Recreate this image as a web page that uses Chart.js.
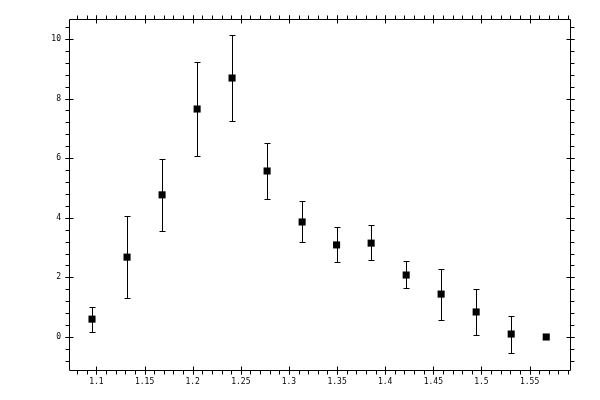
<!DOCTYPE html>
<html>
<head>
<meta charset="utf-8">
<script src="https://cdn.jsdelivr.net/npm/chart.js@4.4.1/dist/chart.umd.min.js"></script>
<style>
  html, body { margin: 0; padding: 0; background: #fff; }
  #wrap { width: 600px; height: 400px; }
</style>
</head>
<body>
<div id="wrap"><canvas id="canvas"></canvas></div>
<script>
// values
const xValues = [1.0954, 1.1318, 1.1682, 1.2046, 1.2409, 1.2773, 1.3137, 1.3495, 1.3854, 1.4218, 1.4581, 1.4945, 1.5309, 1.5673];
const yValues = [0.60, 2.68, 4.77, 7.65, 8.69, 5.57, 3.86, 3.09, 3.15, 2.08, 1.44, 0.84, 0.10, 0.00];
const yHigh   = [1.02, 4.06, 5.97, 9.24, 10.14, 6.51, 4.56, 3.69, 3.76, 2.55, 2.28, 1.61, 0.71, 0.00];
const yLow    = [0.17, 1.32, 3.56, 6.08, 7.25, 4.63, 3.19, 2.52, 2.58, 1.64, 0.57, 0.07, -0.54, 0.00];

const xTicks = [1.1, 1.15, 1.2, 1.25, 1.3, 1.35, 1.4, 1.45, 1.5, 1.55];
const xTickLabels = ['1.1', '1.15', '1.2', '1.25', '1.3', '1.35', '1.4', '1.45', '1.5', '1.55'];
const yTicks = [0, 2, 4, 6, 8, 10];
const yTickLabels = ['0', '2', '4', '6', '8', '10'];

const xRange = [1.0715, 1.592];
const yRange = [-1.107, 10.67];
const xMinorStep = 0.01;
const yMinorStep = 0.4;

let ctx = document.getElementById('canvas').getContext('2d');

const points = xValues.map((x, i) => ({ x: x, y: yValues[i] }));

// error bars go under the squares
const errorBars = {
  id: 'errorBars',
  beforeDatasetsDraw(chart) {
    const c = chart.ctx;
    const xs = chart.scales.x, ys = chart.scales.y;
    c.save();
    c.strokeStyle = '#000';
    c.lineWidth = 1;
    c.beginPath();
    xValues.forEach((x, i) => {
      const px = Math.round(xs.getPixelForValue(x)) + 0.5;
      const top = Math.round(ys.getPixelForValue(yHigh[i])) + 0.5;
      const bot = Math.round(ys.getPixelForValue(yLow[i])) + 0.5;
      if (bot - top < 1) return;
      c.moveTo(px, top); c.lineTo(px, bot);
      c.moveTo(px - 3, top); c.lineTo(px + 3, top);
      c.moveTo(px - 3, bot); c.lineTo(px + 3, bot);
    });
    c.stroke();
    c.restore();
  }
};

// box frame with ticks on all four sides
const frame = {
  id: 'frame',
  afterDraw(chart) {
    const c = chart.ctx;
    const a = chart.chartArea;
    const xs = chart.scales.x, ys = chart.scales.y;
    const L = Math.round(a.left) + 0.5, R = Math.round(a.right) + 0.5;
    const T = Math.round(a.top) + 0.5, B = Math.round(a.bottom) + 0.5;
    c.save();
    c.strokeStyle = '#000';
    c.lineWidth = 1;
    c.beginPath();
    c.rect(L, T, R - L, B - T);

    // minor ticks, outside only
    for (let k = Math.ceil(xRange[0] / xMinorStep - 1e-9); k * xMinorStep <= xRange[1] + 1e-9; k++) {
      const px = Math.round(xs.getPixelForValue(k * xMinorStep)) + 0.5;
      c.moveTo(px, B); c.lineTo(px, B + 4);
      c.moveTo(px, T); c.lineTo(px, T - 4);
    }
    for (let k = Math.ceil(yRange[0] / yMinorStep - 1e-9); k * yMinorStep <= yRange[1] + 1e-9; k++) {
      const py = Math.round(ys.getPixelForValue(k * yMinorStep)) + 0.5;
      c.moveTo(L, py); c.lineTo(L - 4, py);
      c.moveTo(R, py); c.lineTo(R + 4, py);
    }
    // major ticks cross the frame
    xTicks.forEach(v => {
      const px = Math.round(xs.getPixelForValue(v)) + 0.5;
      c.moveTo(px, B - 4); c.lineTo(px, B + 4);
      c.moveTo(px, T - 4); c.lineTo(px, T + 4);
    });
    yTicks.forEach(v => {
      const py = Math.round(ys.getPixelForValue(v)) + 0.5;
      c.moveTo(L - 4, py); c.lineTo(L + 4, py);
      c.moveTo(R - 4, py); c.lineTo(R + 4, py);
    });
    c.stroke();
    c.restore();
  }
};

const data = {
  datasets: [{
    label: 'data',
    data: points,
    pointStyle: 'rect',
    pointRadius: 5,
    pointHoverRadius: 5,
    backgroundColor: '#000',
    borderColor: '#000',
    borderWidth: 0,
    showLine: false
  }]
};

const tickFont = { family: 'DejaVu Sans Mono', size: 8 };

const options = {
  responsive: true,
  maintainAspectRatio: false,
  animation: false,
  events: [],
  layout: {
    padding: { top: 19, right: 30, left: 0, bottom: 0 }
  },
  plugins: {
    legend: { display: false },
    title: { display: false },
    tooltip: { enabled: false }
  },
  scales: {
    x: {
      type: 'linear',
      min: xRange[0],
      max: xRange[1],
      grid: { display: false, drawTicks: false },
      border: { display: false },
      afterBuildTicks: s => { s.ticks = xTicks.map(v => ({ value: v })); },
      afterFit: s => { s.height = 30; },
      ticks: {
        padding: 7,
        color: '#000',
        font: tickFont,
        maxRotation: 0,
        autoSkip: false,
        callback: (v, i) => xTickLabels[i]
      }
    },
    y: {
      type: 'linear',
      min: yRange[0],
      max: yRange[1],
      grid: { display: false, drawTicks: false },
      border: { display: false },
      afterBuildTicks: s => { s.ticks = yTicks.map(v => ({ value: v })); },
      afterFit: s => { s.width = 69; },
      ticks: {
        padding: 8,
        color: '#000',
        font: tickFont,
        autoSkip: false,
        callback: (v, i) => yTickLabels[i]
      }
    }
  }
};

new Chart(ctx, {
  type: 'scatter',
  data: data,
  options: options,
  plugins: [errorBars, frame]
});
</script>
</body>
</html>
